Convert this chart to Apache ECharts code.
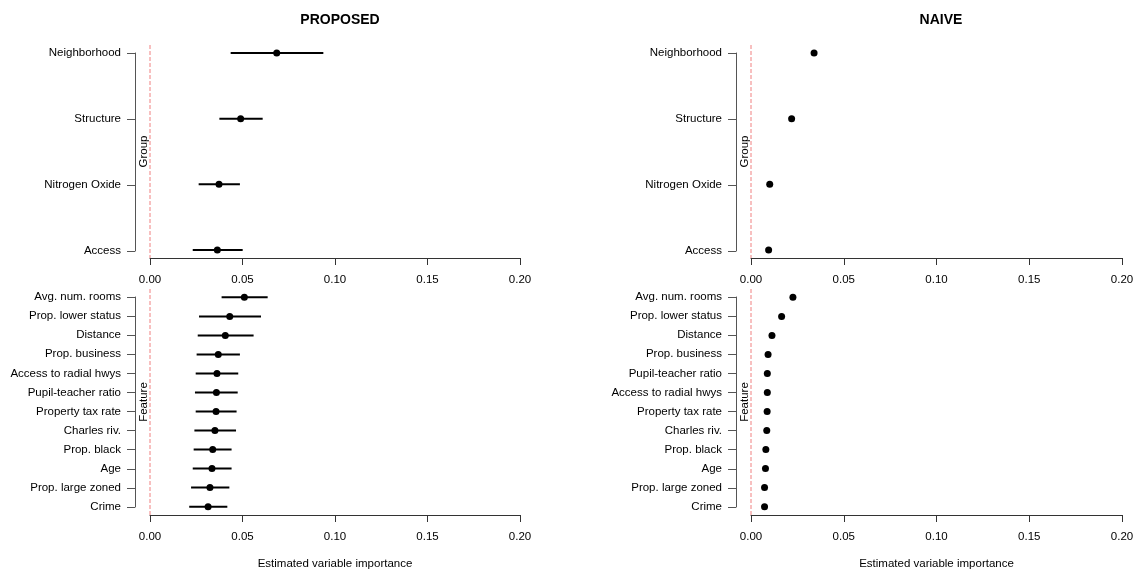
<!DOCTYPE html>
<html>
<head>
<meta charset="utf-8">
<script src="https://cdn.jsdelivr.net/npm/echarts@6/dist/echarts.min.js"></script>
<style>
html,body{margin:0;padding:0;background:#fff;}
#chart{width:1140px;height:572px;}
</style>
</head>
<body>
<div id="chart"></div>
<script>
// ---------------- data ----------------
const groupNames = ['Neighborhood', 'Structure', 'Nitrogen Oxide', 'Access'];
const propGroupEst = [0.0685, 0.0490, 0.0373, 0.0364];
const propGroupLo  = [0.0436, 0.0375, 0.0263, 0.0231];
const propGroupHi  = [0.0937, 0.0609, 0.0486, 0.0501];

const propFeatNames = ['Avg. num. rooms', 'Prop. lower status', 'Distance', 'Prop. business',
  'Access to radial hwys', 'Pupil-teacher ratio', 'Property tax rate', 'Charles riv.',
  'Prop. black', 'Age', 'Prop. large zoned', 'Crime'];
const propFeatEst = [0.0510, 0.0431, 0.0407, 0.0369, 0.0362, 0.0359, 0.0357, 0.0351, 0.0339, 0.0335, 0.0324, 0.0314];
const propFeatLo  = [0.0387, 0.0265, 0.0258, 0.0252, 0.0247, 0.0243, 0.0247, 0.0240, 0.0236, 0.0231, 0.0222, 0.0212];
const propFeatHi  = [0.0636, 0.0600, 0.0560, 0.0486, 0.0477, 0.0474, 0.0468, 0.0465, 0.0441, 0.0441, 0.0429, 0.0418];

const naiveGroupEst = [0.0340, 0.0219, 0.0101, 0.0095];

const naiveFeatNames = ['Avg. num. rooms', 'Prop. lower status', 'Distance', 'Prop. business',
  'Pupil-teacher ratio', 'Access to radial hwys', 'Property tax rate', 'Charles riv.',
  'Prop. black', 'Age', 'Prop. large zoned', 'Crime'];
const naiveFeatEst = [0.0226, 0.0165, 0.0113, 0.0092, 0.0088, 0.0088, 0.0087, 0.0085, 0.0080, 0.0078, 0.0073, 0.0073];

const xTicks = [0, 0.05, 0.10, 0.15, 0.20];
const panelTitles = ['PROPOSED', 'NAIVE'];
const xAxisTitle = 'Estimated variable importance';

// ---------------- layout ----------------
const FONT = '"Liberation Sans", Arial, Helvetica, sans-serif';
const panels = [
  {names: groupNames, est: propGroupEst, lo: propGroupLo, hi: propGroupHi, mainL: 150, mainW: 370, auxL: 135, top: 45, h: 213, auxTop: 53, auxH: 198, label: 'Group', xname: false},
  {names: propFeatNames, est: propFeatEst, lo: propFeatLo, hi: propFeatHi, mainL: 150, mainW: 370, auxL: 135, top: 289, h: 226, auxTop: 297, auxH: 210, label: 'Feature', xname: true},
  {names: groupNames, est: naiveGroupEst, mainL: 751, mainW: 371, auxL: 736, top: 45, h: 213, auxTop: 53, auxH: 198, label: 'Group', xname: false},
  {names: naiveFeatNames, est: naiveFeatEst, mainL: 751, mainW: 371, auxL: 736, top: 289, h: 226, auxTop: 297, auxH: 210, label: 'Feature', xname: true}
];

const grid = [], xAxis = [], yAxis = [], series = [];
panels.forEach((p, i) => {
  const n = p.names.length;
  const pad = 0.04 * (n - 1);
  const gMain = 2 * i, gAux = 2 * i + 1;
  grid.push({left: p.mainL, top: p.top, width: p.mainW, height: p.h});
  grid.push({left: p.auxL, top: p.auxTop, width: 10, height: p.auxH});
  // main x axis
  xAxis.push({
    type: 'value', gridIndex: gMain, min: xTicks[0], max: xTicks[xTicks.length - 1], interval: 0.05,
    position: 'bottom',
    splitLine: {show: false},
    axisLine: {show: true, onZero: false, lineStyle: {color: '#333', width: 1}},
    axisTick: {show: true, length: 7, lineStyle: {color: '#333'}},
    axisLabel: {margin: 16, fontFamily: FONT, fontSize: 11.5, color: '#000', formatter: v => v.toFixed(2)},
    name: p.xname ? xAxisTitle : '', nameLocation: 'middle', nameGap: 43,
    nameTextStyle: {fontFamily: FONT, fontSize: 11.5, color: '#000'}
  });
  // aux x axis (hidden)
  xAxis.push({type: 'value', gridIndex: gAux, min: 0, max: 1, show: false});
  // main y axis (hidden, value)
  yAxis.push({
    type: 'value', gridIndex: gMain, min: -pad, max: n - 1 + pad, inverse: true,
    axisLine: {show: false, onZero: false}, axisTick: {show: false}, axisLabel: {show: false}, splitLine: {show: false},
    name: p.label, nameLocation: 'middle', nameRotate: 90, nameGap: 0,
    nameTextStyle: {fontFamily: FONT, fontSize: 11.5, color: '#000'}
  });
  // aux y axis (category labels)
  yAxis.push({
    type: 'category', gridIndex: gAux, data: p.names, boundaryGap: false, inverse: true,
    axisLine: {show: true, onZero: false, lineStyle: {color: '#555', width: 1}},
    axisTick: {show: true, length: 8, alignWithLabel: true, lineStyle: {color: '#555'}},
    axisLabel: {margin: 14, fontFamily: FONT, fontSize: 11.5, color: '#000', interval: 0},
    splitLine: {show: false}
  });
  // red dashed reference line at 0
  series.push({
    type: 'line', xAxisIndex: gMain, yAxisIndex: gMain, silent: true, symbol: 'none',
    data: [[0, -pad], [0, n - 1 + pad]],
    lineStyle: {color: '#f08080', width: 1, type: [4, 2]}, z: 1
  });
  if (p.lo) {
    series.push({
      type: 'custom', xAxisIndex: gMain, yAxisIndex: gMain,
      data: p.names.map((_, k) => [p.lo[k], p.hi[k], k]),
      encode: {x: [0, 1], y: 2},
      renderItem: (params, api) => {
        const y = api.value(2);
        const a = api.coord([api.value(0), y]);
        const b = api.coord([api.value(1), y]);
        return {type: 'line', shape: {x1: a[0], y1: a[1], x2: b[0], y2: b[1]}, style: {stroke: '#000', lineWidth: 2}};
      },
      z: 2
    });
  }
  series.push({
    type: 'scatter', xAxisIndex: gMain, yAxisIndex: gMain,
    data: p.est.map((v, k) => [v, k]),
    symbol: 'circle', symbolSize: 7, itemStyle: {color: '#000', opacity: 1}, z: 3
  });
});

const chart = echarts.init(document.getElementById('chart'), null, {renderer: 'canvas'});
chart.setOption({
  animation: false,
  backgroundColor: '#fff',
  title: [
    {text: panelTitles[0], left: 335, top: 8, textAlign: 'center', textStyle: {fontFamily: FONT, fontSize: 14, fontWeight: 'bold', color: '#000'}},
    {text: panelTitles[1], left: 936, top: 8, textAlign: 'center', textStyle: {fontFamily: FONT, fontSize: 14, fontWeight: 'bold', color: '#000'}}
  ],
  grid, xAxis, yAxis, series
});
</script>
</body>
</html>
